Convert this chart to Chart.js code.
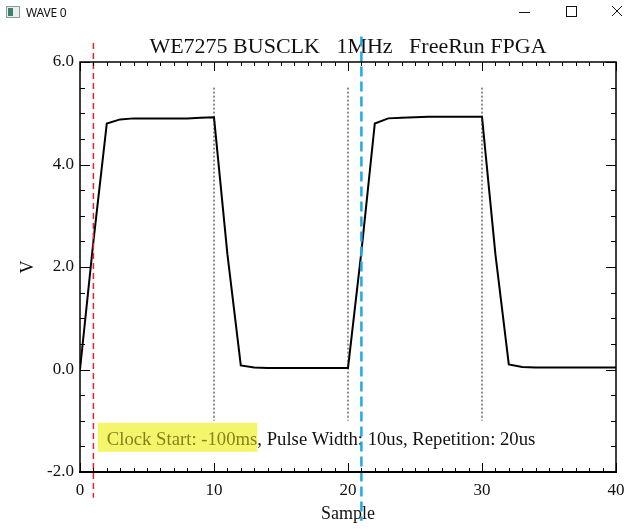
<!DOCTYPE html>
<html>
<head>
<meta charset="utf-8">
<title>WAVE 0</title>
<script src="https://cdn.jsdelivr.net/npm/chart.js@4/dist/chart.umd.min.js"></script>
<style>
  html, body { margin: 0; padding: 0; background: #fff; width: 627px; height: 529px; overflow: hidden; }
  #wrap { position: relative; width: 627px; height: 529px; }
  #plot { position: absolute; left: 0; top: 0; }
  .titlebar { position: absolute; left: 0; top: 0; width: 627px; height: 28px; z-index: 2; pointer-events: none; }
  .titlebar .icon { position: absolute; left: 6px; top: 6px; width: 12px; height: 10px; border: 1px solid #8a9a98; background: #e9eeee; }
  .titlebar .icon::before { content: ""; position: absolute; left: 1px; top: 1px; width: 5px; height: 8px; background: #3f7f6e; }
  .titlebar .caption { position: absolute; left: 26px; top: 4px; font-family: "Noto Sans", sans-serif; font-size: 12px; color: #111; letter-spacing: -0.2px; }
  .titlebar svg { position: absolute; top: 0; left: 0; }
</style>
</head>
<body>
<div id="wrap">
  <canvas id="plot" width="627" height="529"></canvas>
  <div class="titlebar">
    <div class="icon"></div>
    <div class="caption">WAVE 0</div>
    <svg width="627" height="28" viewBox="0 0 627 28">
      <line x1="519" y1="12.5" x2="530" y2="12.5" stroke="#111" stroke-width="1"/>
      <rect x="566.5" y="6.5" width="10" height="10" fill="none" stroke="#111" stroke-width="1"/>
      <line x1="612" y1="6" x2="622" y2="16" stroke="#111" stroke-width="1"/>
      <line x1="622" y1="6" x2="612" y2="16" stroke="#111" stroke-width="1"/>
    </svg>
  </div>
</div>
<script>
// Captured bus clock waveform, one value per sample
const samples = [
  0, 1, 2, 3, 4, 5, 6, 7, 8, 9, 10,
  11, 12, 13, 14, 15, 16, 17, 18, 19, 20,
  21, 22, 23, 24, 25, 26, 27, 28, 29, 30,
  31, 32, 33, 34, 35, 36, 37, 38, 39, 40
];
const volts = [
  0.00, 2.50, 4.80, 4.88, 4.90, 4.90, 4.90, 4.90, 4.90, 4.91, 4.92,
  2.25, 0.08, 0.04, 0.03, 0.03, 0.03, 0.03, 0.03, 0.03, 0.03,
  2.30, 4.80, 4.90, 4.91, 4.92, 4.93, 4.93, 4.93, 4.93, 4.93,
  2.25, 0.10, 0.05, 0.04, 0.04, 0.04, 0.04, 0.04, 0.04, 0.04
];

// Axis tick labels
const xTicks = [0, 10, 20, 30, 40];
const yTicks = [-2.0, 0.0, 2.0, 4.0, 6.0];

// Markers: clock start, cursor, and period boundaries (sample positions)
const clockStartAt = 1;
const cursorAt = 21;
const periodGuides = [10, 20, 30];
// vertical extent of each marker kind, in volts
const clockStartSpan = [6.37, -2.5];
const cursorSpan = [6.5, -2.95];
const guideSpan = [5.5, -1.0];

const chartTitle = 'WE7275 BUSCLK   1MHz   FreeRun FPGA';
const noteHighlight = 'Clock Start: -100ms';
const noteRest = ', Pulse Width: 10us, Repetition: 20us';

const SERIF = '"Liberation Serif", "Times New Roman", serif';

const wavePoints = samples.map((s, i) => ({ x: s, y: volts[i] }));
const vline = (at, span) => [{ x: at, y: span[0] }, { x: at, y: span[1] }];

const datasets = [
  {
    label: 'clock start', data: vline(clockStartAt, clockStartSpan),
    borderColor: '#e8232b', borderWidth: 1.5, borderDash: [6, 4],
    pointRadius: 0, clip: false, order: 0
  },
  {
    label: 'cursor', data: vline(cursorAt, cursorSpan),
    borderColor: '#1fa9e6', borderWidth: 2.5, borderDash: [10, 5],
    pointRadius: 0, clip: false, order: 0
  },
  ...periodGuides.map(g => ({
    label: 'period ' + g, data: vline(g, guideSpan),
    borderColor: '#222', borderWidth: 1, borderDash: [2, 2],
    pointRadius: 0, order: 1
  })),
  {
    label: 'BUSCLK', data: wavePoints,
    borderColor: '#000', borderWidth: 2, pointRadius: 0, tension: 0,
    borderJoinStyle: 'miter', order: 2
  }
];

// Plot frame with inward major/minor ticks on all four sides
const frameTicks = {
  id: 'frameTicks',
  afterDatasetsDraw(chart) {
    const { ctx, chartArea: a, scales: { x, y } } = chart;
    ctx.save();
    ctx.strokeStyle = '#000';
    ctx.lineWidth = 1;
    ctx.beginPath();
    for (let v = x.min; v <= x.max + 1e-9; v += 1) {
      const px = Math.round(x.getPixelForValue(v)) + 0.5;
      const len = (Math.abs(v % 10) < 1e-9) ? 9 : 4;
      ctx.moveTo(px, a.bottom); ctx.lineTo(px, a.bottom - len);
      ctx.moveTo(px, a.top); ctx.lineTo(px, a.top + len);
    }
    for (let v = y.min; v <= y.max + 1e-9; v += 0.5) {
      const py = Math.round(y.getPixelForValue(v)) + 0.5;
      const len = (Math.abs(v % 2) < 1e-9) ? 10 : 5;
      ctx.moveTo(a.left, py); ctx.lineTo(a.left + len, py);
      ctx.moveTo(a.right, py); ctx.lineTo(a.right - len, py);
    }
    ctx.stroke();
    ctx.lineWidth = 1.5;
    ctx.strokeRect(a.left, a.top, a.right - a.left, a.bottom - a.top);
    ctx.lineWidth = 2.2;
    ctx.beginPath();
    ctx.moveTo(a.left - 1, a.bottom); ctx.lineTo(a.right + 1, a.bottom);
    ctx.stroke();
    ctx.restore();
  }
};

// Highlighted annotation line inside the plot
const noteLabel = {
  id: 'noteLabel',
  beforeDatasetsDraw(chart, args, opts) {
    const { ctx, scales: { x, y } } = chart;
    const px = x.getPixelForValue(opts.at[0]);
    const py = y.getPixelForValue(opts.at[1]);
    ctx.save();
    ctx.font = '18.7px ' + SERIF;
    ctx.textBaseline = 'alphabetic';
    ctx.textAlign = 'left';
    const w1 = ctx.measureText(noteHighlight).width;
    ctx.fillStyle = '#f5f56c';
    ctx.fillRect(px - 9, py - 22, w1 + 9, 29);
    ctx.fillStyle = '#83831c';
    ctx.fillText(noteHighlight, px, py);
    ctx.fillStyle = '#111';
    ctx.fillText(noteRest, px + w1, py);
    ctx.restore();
  }
};

new Chart(document.getElementById('plot'), {
  type: 'line',
  data: { datasets },
  plugins: [noteLabel, frameTicks],
  options: {
    responsive: false,
    animation: false,
    events: [],
    layout: { padding: { left: 0, right: 11, top: 0, bottom: 0 } },
    plugins: {
      legend: { display: false },
      tooltip: { enabled: false },
      title: {
        display: true,
        text: chartTitle,
        fullSize: false,
        color: '#111',
        font: { family: SERIF, size: 22, weight: 'normal', lineHeight: 1.2 },
        padding: { top: 34.3, bottom: 1.3 }
      },
      noteLabel: { at: [2.0, -1.47] }
    },
    scales: {
      x: {
        type: 'linear',
        min: 0, max: 40,
        afterBuildTicks: (s) => { s.ticks = xTicks.map(v => ({ value: v })); },
        afterFit: (s) => { s.height = 57; s.paddingLeft = 0; s.paddingRight = 0; },
        grid: { display: false, drawTicks: false },
        border: { display: false },
        ticks: {
          color: '#111', padding: 8,
          font: { family: SERIF, size: 17 },
          maxRotation: 0,
          callback: (v) => String(v)
        },
        title: {
          display: true, text: 'Sample', color: '#111',
          font: { family: SERIF, size: 18 },
          padding: { top: 0, bottom: 4 }
        }
      },
      y: {
        type: 'linear',
        min: -2, max: 6,
        afterBuildTicks: (s) => { s.ticks = yTicks.map(v => ({ value: v })); },
        afterFit: (s) => { s.width = 80; s.paddingTop = 0; s.paddingBottom = 0; },
        grid: { display: false, drawTicks: false },
        border: { display: false },
        ticks: {
          color: '#111', padding: 6,
          font: { family: SERIF, size: 17 },
          callback: (v) => Number(v).toFixed(1)
        },
        title: {
          display: true, text: 'V', color: '#111',
          font: { family: SERIF, size: 18 },
          padding: { top: 17, bottom: 0 }
        }
      }
    }
  }
});
</script>
</body>
</html>
